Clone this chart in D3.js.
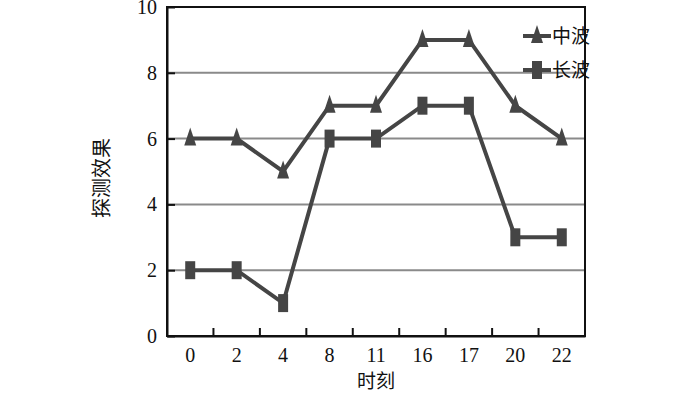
<!DOCTYPE html>
<html>
<head>
<meta charset="utf-8">
<script src="https://cdn.jsdelivr.net/npm/d3@7"></script>
<style>
  body { margin: 0; background: #fff; }
  svg { display: block; }
  .tick text { font-family: "Liberation Serif", "DejaVu Serif", serif; font-size: 20px; fill: #111; }
  .cjk { font-family: "Noto Sans CJK SC", sans-serif; font-size: 19px; fill: #111; }
</style>
</head>
<body>
<script>
// categories (时刻) and series values
var hours = ["0", "2", "4", "8", "11", "16", "17", "20", "22"]
var midWave = [6, 6, 5, 7, 7, 9, 9, 7, 6]      // 中波
var longWave = [2, 2, 1, 6, 6, 7, 7, 3, 3]     // 长波
var yTicks = [0, 2, 4, 6, 8, 10]
var gridVals = [2, 4, 6, 8]

var width = 700, height = 393
var margin = { left: 167, right: 115, top: 7, bottom: 57 }

var svg = d3.select("body").append("svg")
  .attr("width", width)
  .attr("height", height)

var x = d3.scaleBand()
  .domain(hours)
  .range([margin.left, width - margin.right])

var y = d3.scaleLinear()
  .domain([0, 10])
  .range([height - margin.bottom, margin.top])

// grid lines
svg.append("g").selectAll("line")
  .data(gridVals)
  .enter().append("line")
  .attr("x1", margin.left)
  .attr("x2", width - margin.right)
  .attr("y1", d => y(d))
  .attr("y2", d => y(d))
  .attr("stroke", "#8a8a8a")
  .attr("stroke-width", 2)

// box (top and right)
svg.append("rect")
  .attr("x", margin.left)
  .attr("y", margin.top)
  .attr("width", width - margin.right - margin.left)
  .attr("height", y(0) - margin.top)
  .attr("fill", "none")
  .attr("stroke", "#111")
  .attr("stroke-width", 2)

// x axis: ticks at band boundaries, pointing inward
var xAxis = svg.append("g")
  .attr("transform", "translate(0," + y(0) + ")")
  .call(d3.axisBottom(x).tickSize(0).tickPadding(12))
xAxis.select(".domain").attr("stroke", "#111").attr("stroke-width", 2)
xAxis.selectAll("line.bnd")
  .data(hours.slice(1))
  .enter().append("line")
  .attr("class", "bnd")
  .attr("x1", d => x(d))
  .attr("x2", d => x(d))
  .attr("y1", 0)
  .attr("y2", -8)
  .attr("stroke", "#111")
  .attr("stroke-width", 2)

// y axis
var yAxis = svg.append("g")
  .attr("transform", "translate(" + margin.left + ",0)")
  .call(d3.axisLeft(y).tickValues(yTicks).tickSizeInner(-8).tickSizeOuter(0).tickPadding(10))
yAxis.select(".domain").attr("stroke", "#111").attr("stroke-width", 2)
yAxis.selectAll(".tick line").attr("stroke", "#111").attr("stroke-width", 2)

// axis titles
svg.append("text")
  .attr("class", "cjk")
  .attr("x", x("11") + x.bandwidth() / 2)
  .attr("y", 388)
  .attr("text-anchor", "middle")
  .text("时刻")

svg.append("text")
  .attr("class", "cjk")
  .attr("transform", "translate(102," + y(4.8) + ") rotate(-90)")
  .attr("text-anchor", "middle")
  .attr("dy", "0.36em")
  .style("font-size", "20px")
  .text("探测效果")

var lineColor = "#454545"
var cx = d => x(d) + x.bandwidth() / 2

function drawSeries(vals, marker) {
  var pts = hours.map((h, i) => [cx(h), y(vals[i])])
  svg.append("path")
    .attr("d", d3.line()(pts))
    .attr("fill", "none")
    .attr("stroke", lineColor)
    .attr("stroke-width", 4)
  svg.append("g").selectAll("path")
    .data(pts)
    .enter().append("path")
    .attr("transform", d => "translate(" + d[0] + "," + d[1] + ")")
    .attr("d", marker)
    .attr("fill", lineColor)
}

var triMarker = "M0,-11L6,7L-6,7Z"
var rectMarker = "M-5,-9L5,-9L5,9L-5,9Z"

drawSeries(midWave, triMarker)
drawSeries(longWave, rectMarker)

// legend
var legend = [
  { name: "中波", marker: triMarker, y: 36 },
  { name: "长波", marker: rectMarker, y: 70 }
]
var lg = svg.append("g").selectAll("g")
  .data(legend)
  .enter().append("g")
  .attr("transform", d => "translate(523," + d.y + ")")
lg.append("line")
  .attr("x1", 0).attr("x2", 28)
  .attr("stroke", lineColor).attr("stroke-width", 4)
lg.append("path")
  .attr("transform", "translate(14,0)")
  .attr("d", d => d.marker)
  .attr("fill", lineColor)
lg.append("text")
  .attr("class", "cjk")
  .attr("x", 29)
  .attr("dy", "0.36em")
  .text(d => d.name)
</script>
</body>
</html>
